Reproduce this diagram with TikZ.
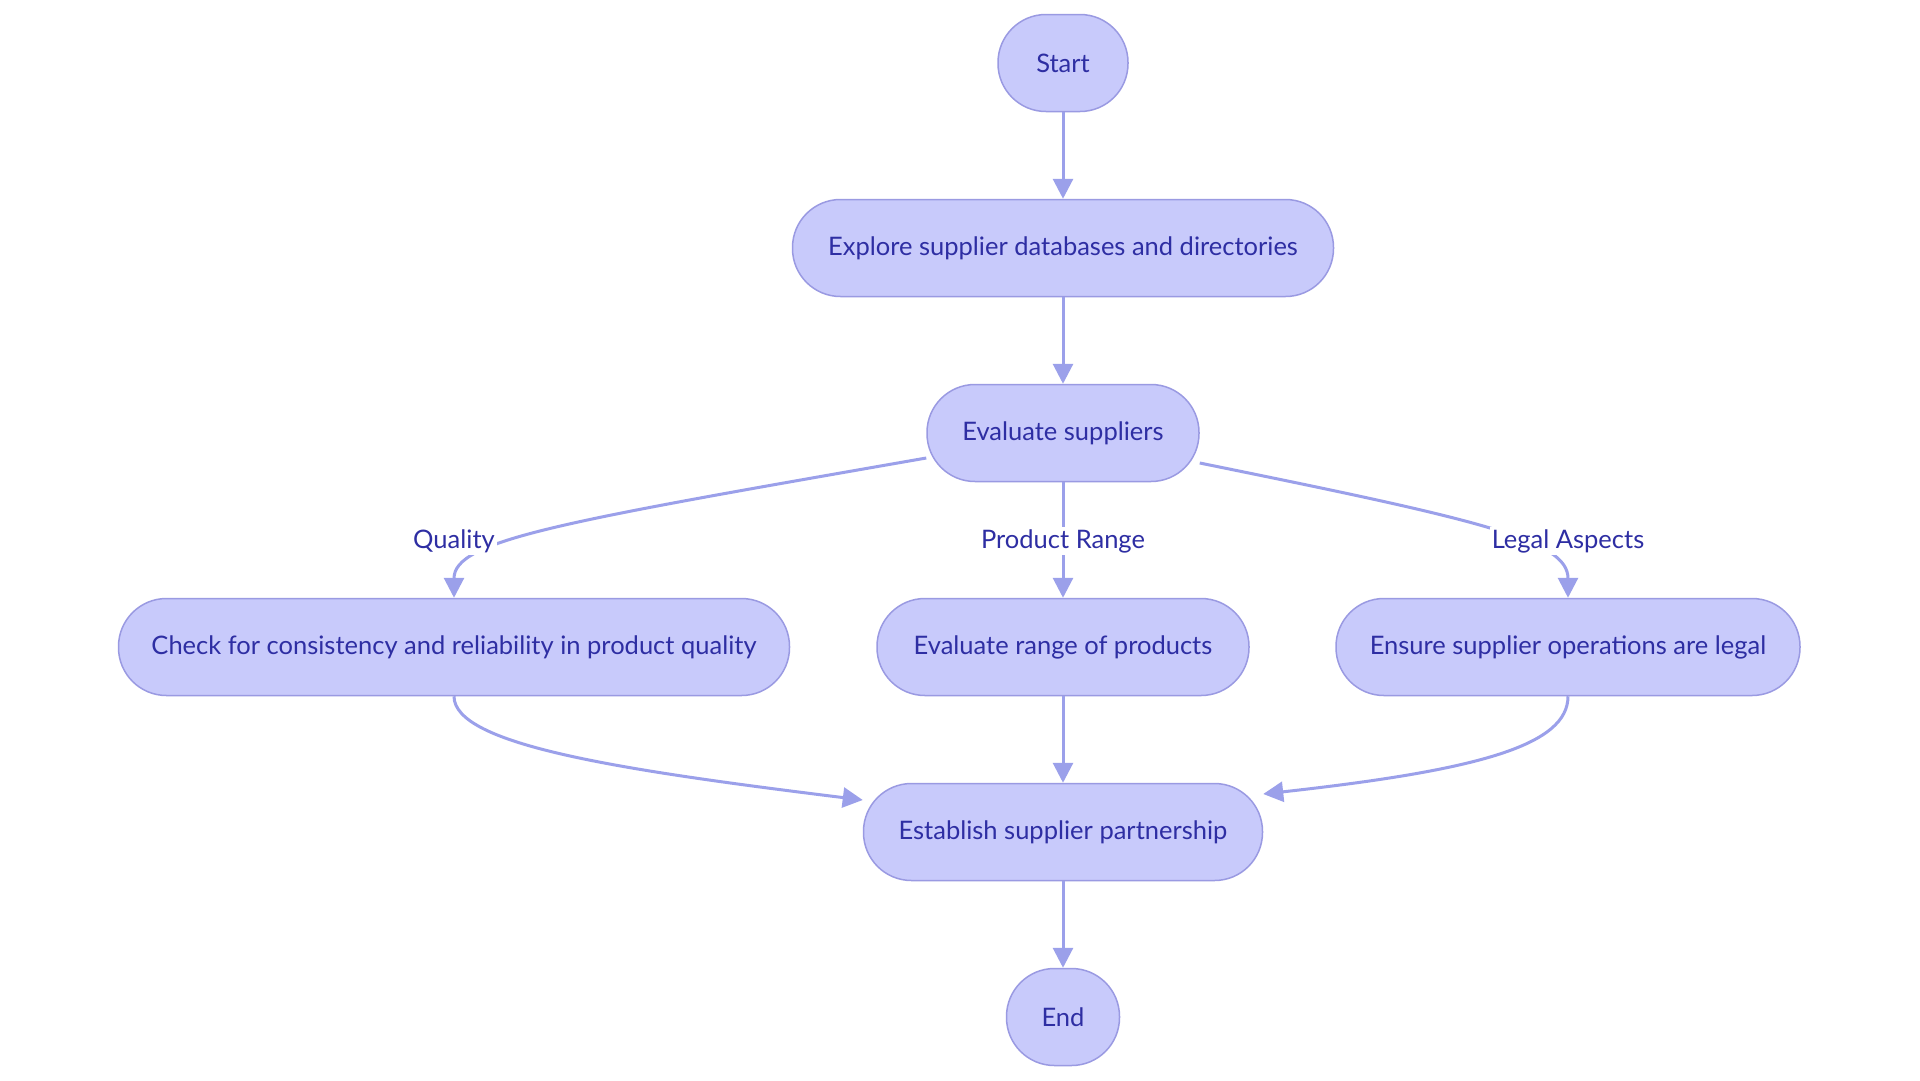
\documentclass[tikz,border=0pt]{standalone}
\usepackage{fontspec}
\setmainfont{Lato}
\usetikzlibrary{arrows.meta}

\definecolor{boxfill}{HTML}{C8CAFB}
\definecolor{boxline}{HTML}{9A9AE2}
\definecolor{edgeline}{HTML}{9BA0EA}
\definecolor{boxtext}{HTML}{2E2EA3}

\tikzset{
  box/.style={draw=boxline, line width=1.5pt, fill=boxfill, rounded corners=48pt,
    minimum height=97pt, inner sep=0pt, text=boxtext, font=\fontsize{25.5}{30}\selectfont},
  lbl/.style={fill=white, inner sep=2pt, text=boxtext, font=\fontsize{25.5}{30}\selectfont},
  flow/.style={draw=edgeline, line width=3pt, -{Triangle[length=20pt,width=20pt]}}
}

\begin{document}
\begin{tikzpicture}[x=1pt, y=-1pt]
    \fill[white] (0,0) rectangle (1920,1080);
    \useasboundingbox (0,0) rectangle (1920,1080);

      \node[box, minimum width=130pt] (start) at (1063,63) {Start};
      \node[box, minimum width=541pt] (explore) at (1063,248) {Explore supplier databases and directories};
      \node[box, minimum width=272pt] (evaluate) at (1063,433) {Evaluate suppliers};
      \node[box, minimum width=671pt] (quality) at (454,647) {Check for consistency and reliability in product quality};
      \node[box, minimum width=372pt] (range) at (1063,647) {Evaluate range of products};
      \node[box, minimum width=464pt] (legal) at (1568,647) {Ensure supplier operations are legal};
      \node[box, minimum width=399pt] (partner) at (1063,832) {Establish supplier partnership};
      \node[box, minimum width=113pt] (stop) at (1063,1017) {End};

      \draw[flow] (start) -- (explore);
      \draw[flow] (explore) -- (evaluate);
      \draw[flow] ([yshift=-25pt]evaluate.west) .. controls (560,522) and (454,540) .. (quality.north);
      \draw[flow] (evaluate) -- (range);
      \draw[flow] ([yshift=-30pt]evaluate.east) .. controls (1480,520) and (1568,540) .. (legal.north);
      \draw[flow] (quality.south) .. controls (454,745) and (620,770) .. ([yshift=32pt]partner.west);
      \draw[flow] (range) -- (partner);
      \draw[flow] (legal.south) .. controls (1568,745) and (1480,770) .. ([yshift=38pt]partner.east);
      \draw[flow] (partner) -- (stop);

      \node[lbl] (qlabel) at (454,541) {Quality};
      \node[lbl] (rlabel) at (1063,541) {Product Range};
      \node[lbl] (llabel) at (1568,541) {Legal Aspects};
\end{tikzpicture}
\end{document}
